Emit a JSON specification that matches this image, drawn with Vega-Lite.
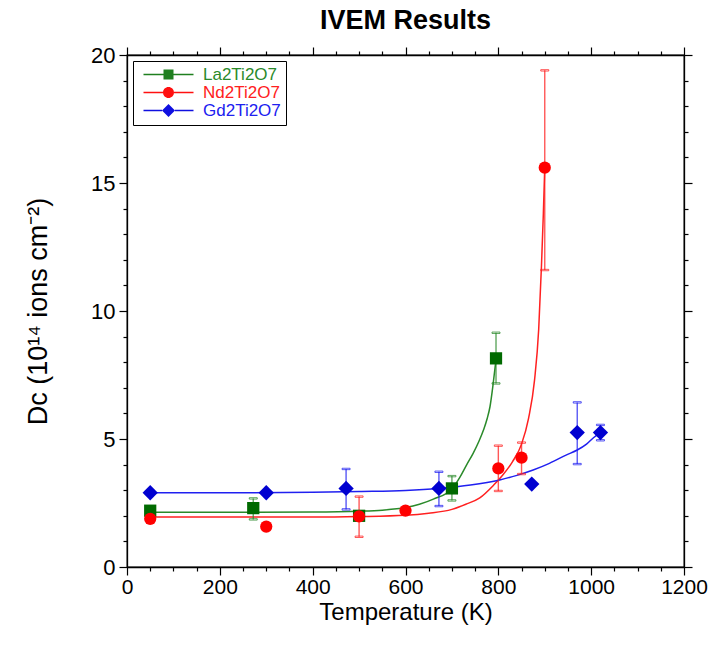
{
  "$schema": "https://vega.github.io/schema/vega-lite/v6.json",
  "width": 557,
  "height": 512,
  "autosize": {"type": "none"},
  "padding": {"left": 127, "top": 55, "right": 29, "bottom": 84},
  "background": "white",
  "title": {"text": "IVEM Results", "fontSize": 27, "fontWeight": "bold", "font": "Liberation Sans", "color": "black", "anchor": "middle", "offset": 9},
  "config": {
    "view": {"stroke": "black", "strokeWidth": 1.3},
    "font": "Liberation Sans",
    "axis": {"grid": false, "domainColor": "black", "domainWidth": 1.3, "tickColor": "black", "tickWidth": 1.2, "labelColor": "black", "titleColor": "black", "labelFont": "Liberation Sans", "titleFont": "Liberation Sans", "titleFontWeight": "normal", "labelFlush": false, "labelBound": false, "labelOverlap": false}
  },
  "datasets": {
    "pts": [
      {"s": "La2Ti2O7", "T": 50, "D": 2.2},
      {"s": "La2Ti2O7", "T": 272, "D": 2.3, "lo": 1.86, "hi": 2.68},
      {"s": "La2Ti2O7", "T": 500, "D": 2.0},
      {"s": "La2Ti2O7", "T": 700, "D": 3.07, "lo": 2.6, "hi": 3.55},
      {"s": "La2Ti2O7", "T": 795, "D": 8.15, "lo": 7.17, "hi": 9.15},
      {"s": "Gd2Ti2O7", "T": 50, "D": 2.9},
      {"s": "Gd2Ti2O7", "T": 300, "D": 2.9},
      {"s": "Gd2Ti2O7", "T": 472, "D": 3.07, "lo": 2.25, "hi": 3.83},
      {"s": "Gd2Ti2O7", "T": 672, "D": 3.07, "lo": 2.38, "hi": 3.72},
      {"s": "Gd2Ti2O7", "T": 872, "D": 3.24},
      {"s": "Gd2Ti2O7", "T": 970, "D": 5.25, "lo": 4.02, "hi": 6.43},
      {"s": "Gd2Ti2O7", "T": 1020, "D": 5.25, "lo": 4.95, "hi": 5.55},
      {"s": "Nd2Ti2O7", "T": 50, "D": 1.88},
      {"s": "Nd2Ti2O7", "T": 300, "D": 1.58},
      {"s": "Nd2Ti2O7", "T": 500, "D": 1.98, "lo": 1.18, "hi": 2.75},
      {"s": "Nd2Ti2O7", "T": 600, "D": 2.2},
      {"s": "Nd2Ti2O7", "T": 800, "D": 3.85, "lo": 2.97, "hi": 4.74},
      {"s": "Nd2Ti2O7", "T": 850, "D": 4.27, "lo": 3.63, "hi": 4.86},
      {"s": "Nd2Ti2O7", "T": 900, "D": 15.6, "lo": 11.6, "hi": 19.4}
    ],
    "curves": [
      {"s": "La2Ti2O7", "T": 50, "D": 2.14},
      {"s": "La2Ti2O7", "T": 200, "D": 2.14},
      {"s": "La2Ti2O7", "T": 400, "D": 2.15},
      {"s": "La2Ti2O7", "T": 500, "D": 2.18},
      {"s": "La2Ti2O7", "T": 550, "D": 2.22},
      {"s": "La2Ti2O7", "T": 600, "D": 2.32},
      {"s": "La2Ti2O7", "T": 630, "D": 2.45},
      {"s": "La2Ti2O7", "T": 660, "D": 2.65},
      {"s": "La2Ti2O7", "T": 700, "D": 3.05},
      {"s": "La2Ti2O7", "T": 717, "D": 3.5},
      {"s": "La2Ti2O7", "T": 732, "D": 4.0},
      {"s": "La2Ti2O7", "T": 746, "D": 4.45},
      {"s": "La2Ti2O7", "T": 758, "D": 4.9},
      {"s": "La2Ti2O7", "T": 768, "D": 5.35},
      {"s": "La2Ti2O7", "T": 776, "D": 5.8},
      {"s": "La2Ti2O7", "T": 782, "D": 6.26},
      {"s": "La2Ti2O7", "T": 789, "D": 7.18},
      {"s": "La2Ti2O7", "T": 795, "D": 8.1},
      {"s": "Nd2Ti2O7", "T": 50, "D": 1.95},
      {"s": "Nd2Ti2O7", "T": 200, "D": 1.95},
      {"s": "Nd2Ti2O7", "T": 400, "D": 1.95},
      {"s": "Nd2Ti2O7", "T": 500, "D": 1.97},
      {"s": "Nd2Ti2O7", "T": 600, "D": 2.02},
      {"s": "Nd2Ti2O7", "T": 650, "D": 2.1},
      {"s": "Nd2Ti2O7", "T": 700, "D": 2.25},
      {"s": "Nd2Ti2O7", "T": 730, "D": 2.45},
      {"s": "Nd2Ti2O7", "T": 760, "D": 2.7},
      {"s": "Nd2Ti2O7", "T": 790, "D": 3.2},
      {"s": "Nd2Ti2O7", "T": 810, "D": 3.6},
      {"s": "Nd2Ti2O7", "T": 830, "D": 4.1},
      {"s": "Nd2Ti2O7", "T": 850, "D": 4.8},
      {"s": "Nd2Ti2O7", "T": 865, "D": 5.8},
      {"s": "Nd2Ti2O7", "T": 878, "D": 7.3},
      {"s": "Nd2Ti2O7", "T": 887, "D": 9.3},
      {"s": "Nd2Ti2O7", "T": 893, "D": 11.8},
      {"s": "Nd2Ti2O7", "T": 897, "D": 13.8},
      {"s": "Nd2Ti2O7", "T": 900, "D": 15.6},
      {"s": "Gd2Ti2O7", "T": 50, "D": 2.9},
      {"s": "Gd2Ti2O7", "T": 200, "D": 2.9},
      {"s": "Gd2Ti2O7", "T": 400, "D": 2.92},
      {"s": "Gd2Ti2O7", "T": 500, "D": 2.95},
      {"s": "Gd2Ti2O7", "T": 600, "D": 2.99},
      {"s": "Gd2Ti2O7", "T": 672, "D": 3.07},
      {"s": "Gd2Ti2O7", "T": 740, "D": 3.2},
      {"s": "Gd2Ti2O7", "T": 803, "D": 3.4},
      {"s": "Gd2Ti2O7", "T": 840, "D": 3.58},
      {"s": "Gd2Ti2O7", "T": 875, "D": 3.79},
      {"s": "Gd2Ti2O7", "T": 910, "D": 4.05},
      {"s": "Gd2Ti2O7", "T": 947, "D": 4.38},
      {"s": "Gd2Ti2O7", "T": 970, "D": 4.57},
      {"s": "Gd2Ti2O7", "T": 990, "D": 4.8},
      {"s": "Gd2Ti2O7", "T": 1005, "D": 5.05},
      {"s": "Gd2Ti2O7", "T": 1020, "D": 5.25}
    ]
  },
  "layer": [
    {
      "data": {"name": "curves"},
      "mark": {"type": "line", "strokeWidth": 1.5, "interpolate": "monotone"},
      "encoding": {
        "x": {"field": "T", "type": "quantitative", "scale": {"domain": [0, 1200], "nice": false},
          "axis": {"orient": "top", "values": [0,50,100,150,200,250,300,350,400,450,500,550,600,650,700,750,800,850,900,950,1000,1050,1100,1150,1200], "labels": false, "title": null, "tickSize": {"condition": {"test": "datum.value % 200 === 0", "value": 8}, "value": 4}}},
        "y": {"field": "D", "type": "quantitative", "scale": {"domain": [0, 20], "nice": false},
          "axis": {"orient": "right", "values": [0,1,2,3,4,5,6,7,8,9,10,11,12,13,14,15,16,17,18,19,20], "labels": false, "title": null, "tickSize": {"condition": {"test": "datum.value % 5 === 0", "value": 8}, "value": 4}}},
        "stroke": {"field": "s", "type": "nominal", "legend": null,
          "scale": {"domain": ["Gd2Ti2O7", "La2Ti2O7", "Nd2Ti2O7"], "range": ["#2020f0", "#2a8a2a", "#ff2020"]}},
        "detail": {"field": "s"}
      }
    },
    {
      "data": {"name": "pts"},
      "transform": [{"filter": "isValid(datum.lo)"}],
      "mark": {"type": "rule", "strokeWidth": 1.4, "opacity": 0.75},
      "encoding": {
        "x": {"field": "T", "type": "quantitative", "axis": null},
        "y": {"field": "lo", "type": "quantitative", "axis": null},
        "y2": {"field": "hi"},
        "stroke": {"field": "s", "type": "nominal", "legend": null}
      }
    },
    {
      "data": {"name": "pts"},
      "transform": [{"filter": "isValid(datum.lo)"}],
      "mark": {"type": "tick", "orient": "horizontal", "size": 8, "thickness": 1.4, "opacity": 0.75},
      "encoding": {
        "x": {"field": "T", "type": "quantitative", "axis": null},
        "y": {"field": "lo", "type": "quantitative", "axis": null},
        "stroke": {"field": "s", "type": "nominal", "legend": null},
        "color": {"value": null}
      }
    },
    {
      "data": {"name": "pts"},
      "transform": [{"filter": "isValid(datum.lo)"}],
      "mark": {"type": "tick", "orient": "horizontal", "size": 8, "thickness": 1.4, "opacity": 0.75},
      "encoding": {
        "x": {"field": "T", "type": "quantitative", "axis": null},
        "y": {"field": "hi", "type": "quantitative", "axis": null},
        "stroke": {"field": "s", "type": "nominal", "legend": null},
        "color": {"value": null}
      }
    },
    {
      "data": {"name": "pts"},
      "mark": {"type": "point", "filled": true, "opacity": 1, "size": 150},
      "encoding": {
        "x": {"field": "T", "type": "quantitative",
          "axis": {"orient": "bottom", "values": [0,50,100,150,200,250,300,350,400,450,500,550,600,650,700,750,800,850,900,950,1000,1050,1100,1150,1200], "labelExpr": "datum.value % 200 === 0 ? datum.label : ''", "format": "d", "labelFontSize": 21, "labelPadding": 1, "title": "Temperature (K)", "titleFontSize": 24, "titlePadding": 3, "tickSize": {"condition": {"test": "datum.value % 200 === 0", "value": 8}, "value": 4}}},
        "y": {"field": "D", "type": "quantitative",
          "axis": {"orient": "left", "values": [0,1,2,3,4,5,6,7,8,9,10,11,12,13,14,15,16,17,18,19,20], "labelExpr": "datum.value % 5 === 0 ? datum.label : ''", "format": "d", "labelFontSize": 22, "labelPadding": 4, "title": "Dc (10¹⁴ ions cm⁻²)", "titleFontSize": 27, "titlePadding": 38, "tickSize": {"condition": {"test": "datum.value % 5 === 0", "value": 8}, "value": 4}}},
        "color": {"field": "s", "type": "nominal", "legend": null,
          "scale": {"domain": ["Gd2Ti2O7", "Nd2Ti2O7", "La2Ti2O7"], "range": ["#0000d0", "#ff0000", "#006a00"]}},
        "shape": {"field": "s", "type": "nominal", "legend": null,
          "scale": {"domain": ["Gd2Ti2O7", "La2Ti2O7", "Nd2Ti2O7", "x"], "range": ["M0,-1.25L1.25,0L0,1.25L-1.25,0Z", "square", "circle", "cross"]}}
      }
    },
    {
      "data": {"name": "pts"},
      "mark": {"type": "point", "filled": true, "opacity": 0},
      "encoding": {
        "x": {"field": "T", "type": "quantitative", "axis": null},
        "y": {"field": "D", "type": "quantitative", "axis": null},
        "color": {"field": "s", "type": "nominal",
          "scale": {"domain": ["La2Ti2O7", "Nd2Ti2O7", "Gd2Ti2O7"], "range": ["#1f7f1f", "#ff1010", "#1010e0"]},
          "legend": {"orient": "top-left", "offset": 6, "title": null, "fillColor": "white", "strokeColor": "black", "padding": 5, "labelFontSize": 17, "labelFont": "Liberation Sans", "symbolSize": 100, "symbolOpacity": 1, "symbolOffset": 22, "labelOffset": 26, "rowPadding": 0,
            "labelColor": {"expr": "datum.value === 'La2Ti2O7' ? '#2a8a2a' : datum.value === 'Nd2Ti2O7' ? '#ff2020' : '#2020f0'"}}},
        "shape": {"field": "s", "type": "nominal",
          "scale": {"domain": ["La2Ti2O7", "Nd2Ti2O7", "Gd2Ti2O7"], "range": ["M-5,-0.15H-1V0.15H-5ZM1,-0.15H5V0.15H1ZM-1,-1H1V1H-1Z", "M-5,-0.15H-1.1V0.15H-5ZM1.1,-0.15H5V0.15H1.1ZM1.1,0A1.1,1.1,0,1,1,-1.1,0A1.1,1.1,0,1,1,1.1,0Z", "M-5,-0.15H-1.3V0.15H-5ZM1.3,-0.15H5V0.15H1.3ZM0,-1.3L1.3,0L0,1.3L-1.3,0Z"]},
          "legend": {"orient": "top-left", "offset": 6, "title": null, "fillColor": "white", "strokeColor": "black", "padding": 5, "labelFontSize": 17, "labelFont": "Liberation Sans", "symbolSize": 100, "symbolOpacity": 1, "symbolOffset": 22, "labelOffset": 26, "rowPadding": 0,
            "labelColor": {"expr": "datum.value === 'La2Ti2O7' ? '#2a8a2a' : datum.value === 'Nd2Ti2O7' ? '#ff2020' : '#2020f0'"}}}
      }
    }
  ],
  "resolve": {"axis": {"x": "independent", "y": "independent"}, "scale": {"shape": "independent", "color": "independent"}}
}
